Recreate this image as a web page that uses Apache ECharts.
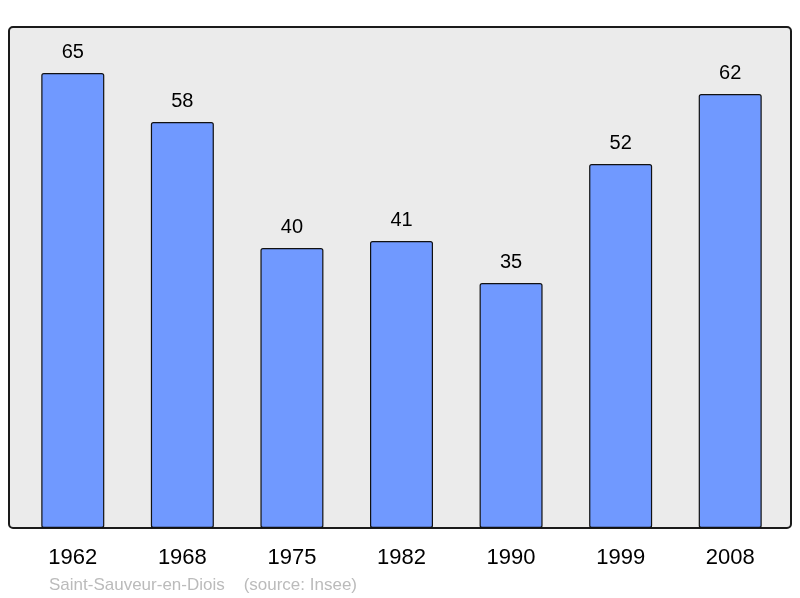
<!DOCTYPE html>
<html>
<head>
<meta charset="utf-8">
<script src="https://cdn.jsdelivr.net/npm/echarts@6/dist/echarts.min.js"></script>
<style>html,body{margin:0;padding:0;background:#fff}#c{width:800px;height:598px}</style>
</head>
<body>
<div id="c"></div>
<script>
const years = ['1962', '1968', '1975', '1982', '1990', '1999', '2008'];
const population = [65, 58, 40, 41, 35, 52, 62];
const sourceText = 'Saint-Sauveur-en-Diois    (source: Insee)';

const chart = echarts.init(document.getElementById('c'), null, {renderer: 'canvas'});
const font = '"Liberation Sans", Arial, sans-serif';
chart.setOption({
  animation: false,
  backgroundColor: '#ffffff',
  graphic: [{
    type: 'rect', z: -10, silent: true,
    shape: {x: 9, y: 27, width: 782, height: 501, r: 4},
    style: {fill: '#ebebeb', stroke: '#1a1a1a', lineWidth: 2}
  }],
  title: {
    text: sourceText, left: 44, top: 572,
    textStyle: {fontFamily: font, fontSize: 17, fontWeight: 'normal', color: '#bbbbbb'}
  },
  grid: {left: 18, right: 15, top: 27, bottom: 70},
  xAxis: {
    type: 'category', data: years,
    axisLine: {show: false}, axisTick: {show: false},
    axisLabel: {fontFamily: font, fontSize: 22, color: '#000', margin: 19}
  },
  yAxis: {
    type: 'value', min: 0, max: 71.57,
    show: false, splitLine: {show: false}
  },
  series: [{
    type: 'bar', data: population, barWidth: 63,
    itemStyle: {color: '#7099ff', borderColor: '#111', borderWidth: 1.2, borderRadius: 2},
    label: {show: true, position: 'top', distance: 11, fontFamily: font, fontSize: 20, color: '#000'}
  }]
});
</script>
</body>
</html>
